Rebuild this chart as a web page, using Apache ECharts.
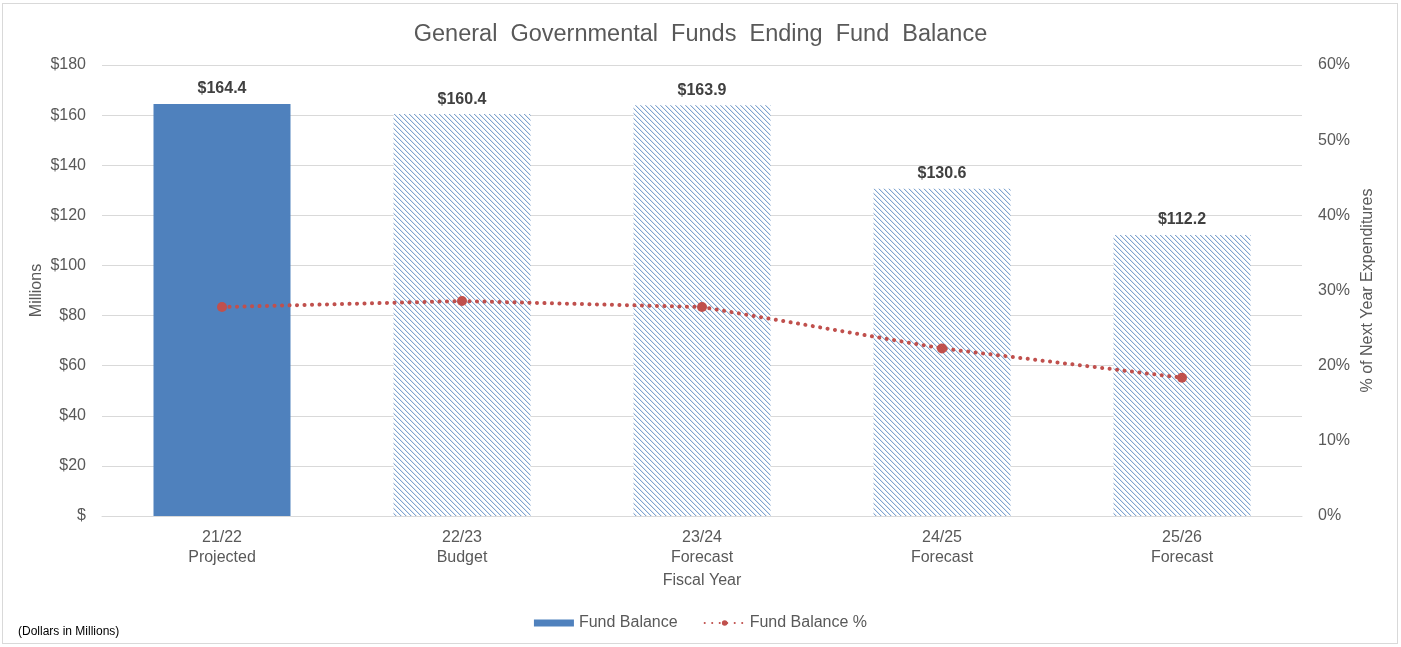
<!DOCTYPE html>
<html>
<head>
<meta charset="utf-8">
<script src="https://cdn.jsdelivr.net/npm/echarts@6/dist/echarts.min.js"></script>
<style>
  html, body { margin: 0; padding: 0; background: #fff; }
  #frame { position: absolute; left: 2px; top: 3px; width: 1396px; height: 641px; border: 1px solid #D9D9D9; box-sizing: border-box; }
  #chart { width: 1401px; height: 647px; position: absolute; left: 0; top: 0; }
</style>
</head>
<body>
<div id="frame"></div>
<div id="chart"></div>
<script>
// Fiscal years and their status
const years = ['21/22', '22/23', '23/24', '24/25', '25/26'];
const phases = ['Projected', 'Budget', 'Forecast', 'Forecast', 'Forecast'];
// Ending fund balance, $ millions
const fundBalance = [164.4, 160.4, 163.9, 130.6, 112.2];
// Fund balance as % of next year expenditures
const fundBalancePct = [27.8, 28.6, 27.8, 22.3, 18.4];

const categories = years.map((y, i) => y + '\n' + phases[i]);

// Downward diagonal hatch used for budget / forecast years
function hatchTile() {
  const n = 5;
  const c = document.createElement('canvas');
  c.width = n; c.height = n;
  const ctx = c.getContext('2d');
  ctx.fillStyle = '#ffffff';
  ctx.fillRect(0, 0, n, n);
  for (let i = 0; i < n; i++) {
    ctx.fillStyle = 'rgba(79,129,189,0.72)';
    ctx.fillRect(i, i, 1, 1);
    ctx.fillStyle = 'rgba(79,129,189,0.2)';
    ctx.fillRect((i + 1) % n, i, 1, 1);
  }
  return c;
}
const hatch = { image: hatchTile(), repeat: 'repeat' };
const solidBlue = '#4F81BD';
const red = '#C0504D';
const textGray = '#595959';
const font = 'Liberation Sans, Arial, sans-serif';

const chart = echarts.init(document.getElementById('chart'), null, { renderer: 'canvas' });
chart.setOption({
  animation: false,
  backgroundColor: 'transparent',
  textStyle: { fontFamily: font },
  title: {
    text: 'General  Governmental  Funds  Ending  Fund  Balance',
    left: 'center',
    top: 18,
    textStyle: { fontSize: 23.5, fontWeight: 'normal', color: textGray, fontFamily: font }
  },
  grid: { left: 102, right: 99, top: 65, bottom: 131, containLabel: false },
  legend: {
    bottom: 11,
    left: 'center',
    itemGap: 26,
    itemWidth: 40,
    itemHeight: 7,
    textStyle: { fontSize: 16, color: textGray },
    data: [
      { name: 'Fund Balance', icon: 'rect', itemStyle: { color: solidBlue } },
      { name: 'Fund Balance %' }
    ]
  },
  xAxis: {
    type: 'category',
    data: categories,
    name: 'Fiscal Year',
    nameLocation: 'middle',
    nameGap: 57,
    nameMoveOverlap: false,
    nameTextStyle: { fontSize: 16, color: textGray },
    axisLine: { lineStyle: { color: '#D9D9D9' } },
    axisTick: { show: false },
    axisLabel: { fontSize: 16, color: textGray, lineHeight: 20, margin: 12 }
  },
  yAxis: [
    {
      type: 'value',
      min: 0, max: 180, interval: 20,
      name: 'Millions',
      nameLocation: 'middle',
      nameGap: 57,
      nameMoveOverlap: false,
      nameRotate: 90,
      nameTextStyle: { fontSize: 16, color: textGray },
      axisLine: { show: false },
      axisTick: { show: false },
      splitLine: { lineStyle: { color: '#D9D9D9' } },
      axisLabel: {
        fontSize: 16, color: textGray, margin: 16,
        formatter: v => v === 0 ? '$' : '$' + v
      }
    },
    {
      type: 'value',
      min: 0, max: 60, interval: 10,
      name: '% of Next Year Expenditures',
      nameLocation: 'middle',
      nameGap: 58,
      nameMoveOverlap: false,
      nameRotate: 90,
      nameTextStyle: { fontSize: 16, color: textGray },
      axisLine: { show: false },
      axisTick: { show: false },
      splitLine: { show: false },
      axisLabel: { fontSize: 16, color: textGray, margin: 16, formatter: v => v + '%' }
    }
  ],
  series: [
    {
      name: 'Fund Balance',
      type: 'bar',
      barWidth: 137,
      data: fundBalance.map((v, i) => ({
        value: v,
        itemStyle: { color: i === 0 ? solidBlue : hatch }
      })),
      label: {
        show: true,
        position: 'top',
        distance: 7,
        fontSize: 16,
        fontWeight: 'bold',
        color: '#404040',
        formatter: p => '$' + p.value.toFixed(1)
      },
      z: 1
    },
    {
      name: 'Fund Balance %',
      type: 'line',
      yAxisIndex: 1,
      data: fundBalancePct,
      symbol: 'circle',
      symbolSize: 10,
      itemStyle: { color: red },
      lineStyle: { color: red, width: 4, type: [0.1, 7.4], cap: 'round' },
      z: 3
    }
  ],
  graphic: [
    {
      type: 'text',
      left: 18,
      top: 626,
      style: { text: '(Dollars in Millions)', fontSize: 12, fill: '#000', fontFamily: font }
    }
  ]
});
</script>
</body>
</html>
